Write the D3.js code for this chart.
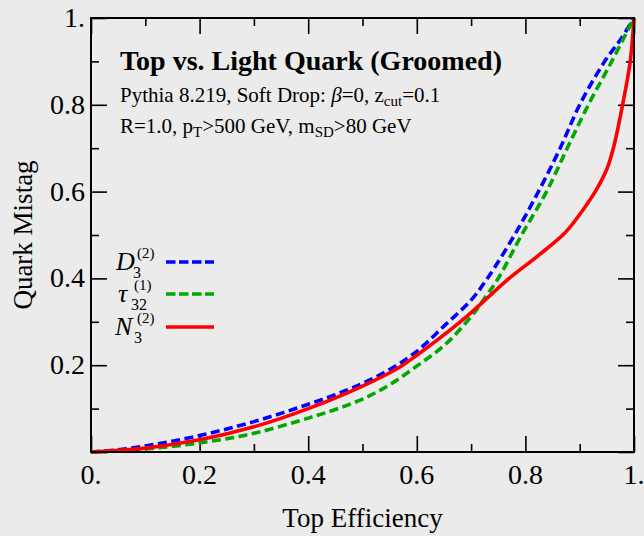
<!DOCTYPE html>
<html>
<head>
<meta charset="utf-8">
<script src="https://cdn.jsdelivr.net/npm/d3@7"></script>
<style>
  html, body { margin: 0; padding: 0; background: #ebebeb; }
  svg { display: block; font-family: "Liberation Serif", "Times New Roman", serif; }
</style>
</head>
<body>
<div id="chart"></div>
<script>
// ROC curves, top efficiency vs quark mistag
var effD3 = [0, 0.05, 0.1, 0.15, 0.2, 0.25, 0.3, 0.35, 0.4, 0.45, 0.5, 0.55, 0.6, 0.65, 0.7, 0.73, 0.78, 0.824, 0.864, 0.9, 0.946, 0.975, 1];
var misD3 = [0, 0.005, 0.014, 0.025, 0.038, 0.053, 0.07, 0.089, 0.11, 0.132, 0.158, 0.19, 0.232, 0.29, 0.35, 0.4, 0.5, 0.6, 0.7, 0.8, 0.9, 0.95, 1];

var effTau = [0, 0.1, 0.2, 0.3, 0.4, 0.45, 0.5, 0.55, 0.6, 0.65, 0.7, 0.728, 0.75, 0.793, 0.839, 0.877, 0.916, 0.959, 1];
var misTau = [0, 0.007, 0.021, 0.043, 0.078, 0.098, 0.122, 0.155, 0.198, 0.245, 0.312, 0.36, 0.4, 0.5, 0.6, 0.7, 0.8, 0.9, 1];

var effN3 = [0, 0.1, 0.2, 0.3, 0.4, 0.5, 0.569, 0.6, 0.68, 0.716, 0.77, 0.823, 0.873, 0.905, 0.931, 0.95, 0.962, 0.979, 0.993, 1];
var misN3 = [0, 0.009, 0.028, 0.058, 0.1, 0.152, 0.196, 0.223, 0.3, 0.339, 0.4, 0.452, 0.505, 0.556, 0.605, 0.652, 0.7, 0.8, 0.9, 1];

var majorTicks = [0, 0.2, 0.4, 0.6, 0.8, 1];
var minorTicks = [0.1, 0.3, 0.5, 0.7, 0.9];
var xTickLabels = ["0.", "0.2", "0.4", "0.6", "0.8", "1."];
var yTickLabels = ["", "0.2", "0.4", "0.6", "0.8", "1."];

function init() {
    var w = 644;
    var h = 536;
    var left = 91, right = 634, top = 18, bottom = 452;

    var x = d3.scaleLinear().domain([0, 1]).range([left, right]);
    var y = d3.scaleLinear().domain([0, 1]).range([bottom, top]);

    var svg = d3.select("#chart")
        .append("svg")
        .attr("width", w)
        .attr("height", h);

    svg.append("rect")
        .attr("width", w).attr("height", h)
        .attr("fill", "#ebebeb");

    // ticks on all four sides, pointing inward
    function ticks(axis, vals, size, tx, ty) {
        var g = svg.append("g")
            .attr("transform", "translate(" + tx + "," + ty + ")")
            .call(axis.tickValues(vals).tickSize(size).tickFormat(""));
        g.select(".domain").remove();
        g.selectAll("line").attr("stroke", "#000").attr("stroke-width", 1.6);
        return g;
    }
    ticks(d3.axisBottom(x), majorTicks, -16, 0, bottom);
    ticks(d3.axisBottom(x), minorTicks, -8, 0, bottom);
    ticks(d3.axisTop(x), majorTicks, -16, 0, top);
    ticks(d3.axisTop(x), minorTicks, -8, 0, top);
    ticks(d3.axisLeft(y), majorTicks, -16, left, 0);
    ticks(d3.axisLeft(y), minorTicks, -8, left, 0);
    ticks(d3.axisRight(y), majorTicks, -16, right, 0);
    ticks(d3.axisRight(y), minorTicks, -8, right, 0);

    // tick labels
    svg.append("g").selectAll("text")
        .data(majorTicks)
        .enter()
        .append("text")
        .attr("x", function(d) { return x(d); })
        .attr("y", 484)
        .attr("text-anchor", "middle")
        .style("font-size", "28px")
        .text(function(d, i) { return xTickLabels[i]; });

    svg.append("g").selectAll("text")
        .data(majorTicks)
        .enter()
        .append("text")
        .attr("x", 85)
        .attr("y", function(d) { return y(d) + 9; })
        .attr("text-anchor", "end")
        .style("font-size", "28px")
        .text(function(d, i) { return yTickLabels[i]; });

    svg.append("text")
        .attr("x", (left + right) / 2)
        .attr("y", 527)
        .attr("text-anchor", "middle")
        .style("font-size", "27px")
        .text("Top Efficiency");

    svg.append("text")
        .attr("transform", "translate(32," + ((top + bottom) / 2) + ") rotate(-90)")
        .attr("text-anchor", "middle")
        .style("font-size", "27px")
        .text("Quark Mistag");

    // curves
    var line = d3.line()
        .x(function(d) { return x(d[0]); })
        .y(function(d) { return y(d[1]); })
        .curve(d3.curveCatmullRom.alpha(0.5));

    var curves = [
        { e: effD3, m: misD3, color: "#0000ff", dash: "9,4.5" },
        { e: effTau, m: misTau, color: "#00a800", dash: "9,4.5" },
        { e: effN3, m: misN3, color: "#ff0000", dash: null }
    ];

    svg.selectAll("path.roc")
        .data(curves)
        .enter()
        .append("path")
        .attr("class", "roc")
        .attr("fill", "none")
        .attr("stroke", function(d) { return d.color; })
        .attr("stroke-width", 3.6)
        .attr("stroke-dasharray", function(d) { return d.dash; })
        .attr("d", function(d) { return line(d.e.map(function(v, i) { return [v, d.m[i]]; })); });

    // frame
    svg.append("rect")
        .attr("x", left).attr("y", top)
        .attr("width", right - left).attr("height", bottom - top)
        .attr("fill", "none")
        .attr("stroke", "#000")
        .attr("stroke-width", 2);

    // labels
    svg.append("text")
        .attr("x", 120).attr("y", 70)
        .style("font-size", "28px").style("font-weight", "bold")
        .text("Top vs. Light Quark (Groomed)");

    var l2 = svg.append("text")
        .attr("x", 120).attr("y", 102)
        .style("font-size", "21px");
    l2.append("tspan").text("Pythia 8.219, Soft Drop: ");
    l2.append("tspan").style("font-style", "italic").text("\u03B2");
    l2.append("tspan").text("=0, z");
    l2.append("tspan").attr("dy", 4).style("font-size", "15px").text("cut");
    l2.append("tspan").attr("dy", -4).text("=0.1");

    var l3 = svg.append("text")
        .attr("x", 120).attr("y", 133)
        .style("font-size", "21px");
    l3.append("tspan").text("R=1.0, p");
    l3.append("tspan").attr("dy", 4).style("font-size", "15px").text("T");
    l3.append("tspan").attr("dy", -4).text(">500 GeV, m");
    l3.append("tspan").attr("dy", 4).style("font-size", "15px").text("SD");
    l3.append("tspan").attr("dy", -4).text(">80 GeV");

    // legend
    var legend = [
        { main: "D", sub: "3", sup: "(2)", y: 262, color: "#0000ff", dash: "9.5,3.5", mx: 116, sx: 133, px: 137 },
        { main: "\u03C4", sub: "32", sup: "(1)", y: 294, color: "#00a800", dash: "9.5,3.5", mx: 118, sx: 131, px: 134 },
        { main: "N", sub: "3", sup: "(2)", y: 327, color: "#ff0000", dash: null, mx: 115, sx: 134, px: 137 }
    ];
    var lg = svg.selectAll("g.leg")
        .data(legend)
        .enter()
        .append("g")
        .attr("class", "leg");

    lg.append("line")
        .attr("x1", 166).attr("x2", 214)
        .attr("y1", function(d) { return d.y; })
        .attr("y2", function(d) { return d.y; })
        .attr("stroke", function(d) { return d.color; })
        .attr("stroke-width", 3.6)
        .attr("stroke-dasharray", function(d) { return d.dash; });

    var lt = lg.append("text")
        .attr("x", function(d) { return d.mx; })
        .attr("y", function(d) { return d.y + 8; })
        .style("font-size", "26px");
    lt.append("tspan")
        .style("font-style", "italic")
        .text(function(d) { return d.main; });
    lt.append("tspan")
        .attr("x", function(d) { return d.px; })
        .attr("dy", -12)
        .style("font-size", "15px")
        .text(function(d) { return d.sup; });
    lt.append("tspan")
        .attr("x", function(d) { return d.sx; })
        .attr("dy", 20)
        .style("font-size", "16px")
        .text(function(d) { return d.sub; });
}

window.onload = init;
</script>
</body>
</html>
